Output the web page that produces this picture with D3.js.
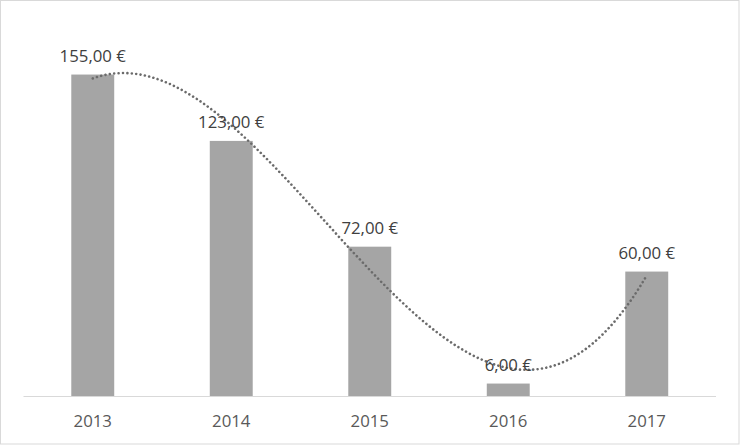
<!DOCTYPE html>
<html><head><meta charset="utf-8">
<script src="https://cdn.jsdelivr.net/npm/d3@7"></script>
<style>html,body{margin:0;padding:0;background:#fff;}svg{display:block;}</style>
</head><body>
<svg id="c" width="740" height="445"></svg>
<script>
const categories = ["2013", "2014", "2015", "2016", "2017"];
const values = [155, 123, 72, 6, 60];
const yDomain = [0, 180];
const labelFormat = v => d3.format(".2f")(v).replace(".", ",") + " €";

const W = 740, H = 445;
const svg = d3.select("#c");
const font = "'Open Sans', 'Liberation Sans', sans-serif";

svg.append("rect").attr("x", 0.5).attr("y", 0.5).attr("width", W - 1.5).attr("height", H - 1.5)
  .attr("fill", "#fff").attr("stroke", "#d9d9d9");

const x = d3.scaleBand().domain(categories).range([23.5, 716]).paddingInner(0.69).paddingOuter(0.345);
const y = d3.scaleLinear().domain(yDomain).range([396, 22.7]);

svg.selectAll("rect.bar").data(values).join("rect").attr("class", "bar")
  .attr("x", (d, i) => x(categories[i])).attr("width", x.bandwidth())
  .attr("y", d => y(d)).attr("height", d => y(0) - y(d)).attr("fill", "#a5a5a5");

const xAxis = svg.append("g").attr("transform", `translate(0,${y(0)})`)
  .call(d3.axisBottom(x).tickSize(0).tickPadding(0));
xAxis.select(".domain").attr("stroke", "#d9d9d9").attr("stroke-width", 1)
  .attr("d", `M23.5,0.5H716`);
xAxis.selectAll("text").attr("font-family", font).attr("font-size", 16.8)
  .attr("fill", "#595959").attr("dy", null).attr("y", 30.5);

// Cubic least-squares trendline (as Excel polynomial order 3) from the values
function polyFit(xs, ys, order) {
  const n = order + 1;
  const A = Array.from({length: n}, () => new Array(n + 1).fill(0));
  for (let r = 0; r < n; r++) {
    for (let c = 0; c < n; c++) A[r][c] = d3.sum(xs, xv => Math.pow(xv, r + c));
    A[r][n] = d3.sum(xs, (xv, i) => Math.pow(xv, r) * ys[i]);
  }
  for (let i = 0; i < n; i++) {
    let p = i;
    for (let k = i + 1; k < n; k++) if (Math.abs(A[k][i]) > Math.abs(A[p][i])) p = k;
    [A[i], A[p]] = [A[p], A[i]];
    for (let k = i + 1; k < n; k++) {
      const f = A[k][i] / A[i][i];
      for (let j = i; j <= n; j++) A[k][j] -= f * A[i][j];
    }
  }
  const coef = new Array(n).fill(0);
  for (let i = n - 1; i >= 0; i--) {
    let s = A[i][n];
    for (let j = i + 1; j < n; j++) s -= A[i][j] * coef[j];
    coef[i] = s / A[i][i];
  }
  return t => coef.reduce((acc, c, k) => acc + c * Math.pow(t, k), 0);
}
const idx = values.map((d, i) => i + 1);
const fit = polyFit(idx, values, 3);
const pos = t => x(categories[0]) + x.bandwidth() / 2 + (t - 1) * x.step();
const trend = d3.range(1, 5.0001, 0.02).map(t => [pos(t), y(fit(t))]);
svg.append("path").attr("d", d3.line()(trend)).attr("fill", "none")
  .attr("stroke", "#6b6b6b").attr("stroke-width", 2.6)
  .attr("stroke-dasharray", "0.01 4.4").attr("stroke-linecap", "round");

svg.selectAll("text.lbl").data(values).join("text").attr("class", "lbl")
  .attr("x", (d, i) => x(categories[i]) + x.bandwidth() / 2)
  .attr("y", d => y(d) - 13)
  .attr("text-anchor", "middle").attr("font-family", font).attr("font-size", 16.8)
  .attr("fill", "#404040").text(d => labelFormat(d));
</script>
</body></html>
